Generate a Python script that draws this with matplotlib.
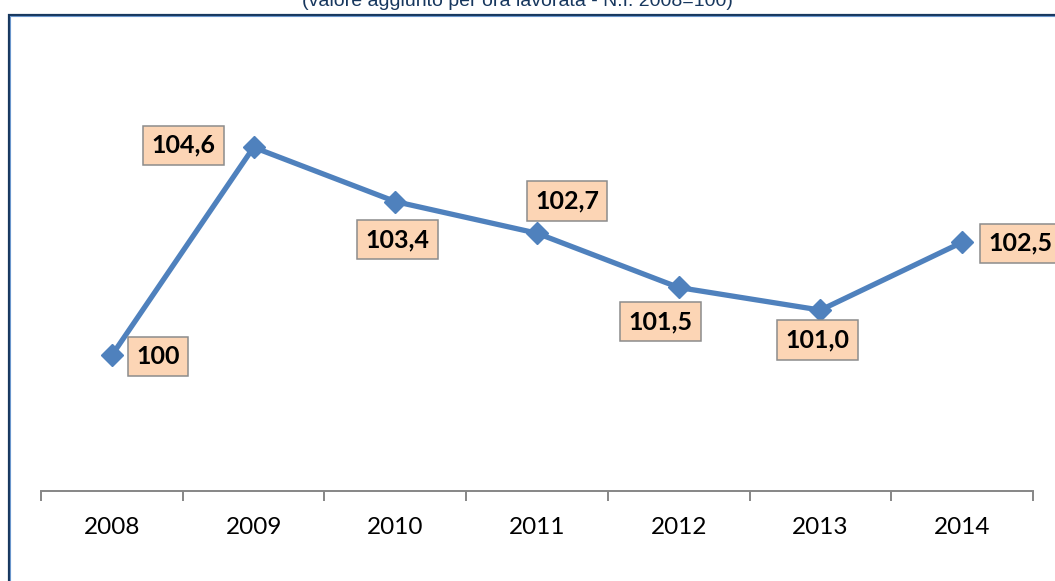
import matplotlib
matplotlib.use("Agg")
import matplotlib.pyplot as plt
from matplotlib.patches import Rectangle

years = ["2008", "2009", "2010", "2011", "2012", "2013", "2014"]
values = [100.0, 104.6, 103.4, 102.7, 101.5, 101.0, 102.5]
value_labels = ["100", "104,6", "103,4", "102,7", "101,5", "101,0", "102,5"]
title = "(valore aggiunto per ora lavorata - N.I. 2008=100)"

# label placement relative to each point, in pixels
label_offsets = [(46, -1), (-70, 2), (2, -38), (30, 32), (-18, -34), (-3, -30), (58, -1)]

W, H = 1055, 581
fig = plt.figure(figsize=(W / 100, H / 100), dpi=100)

# outer chart frame (runs off the right and bottom edges)
fig.patches.append(Rectangle((8.5 / W, -0.2), 1.2, 1.2 - 14.5 / H, transform=fig.transFigure,
                             fill=False, edgecolor="#17375E", linewidth=1.6, zorder=0))
fig.patches.append(Rectangle((10 / W, -0.2), 1.2, 1.2 - 16 / H, transform=fig.transFigure,
                             fill=False, edgecolor="#6A96CC", linewidth=0.8, zorder=0))

fig.text(517 / W, 1 - 6 / H, title, ha="center", va="baseline", color="#17375E",
         fontsize=14, family="Liberation Sans")

ax = fig.add_axes([41 / W, (H - 491) / H, 992 / W, 407 / H])
ax.set_facecolor("none")
x = list(range(len(years)))
ax.plot(x, values, color="#4F81BD", linewidth=3.8, marker="D", markersize=11,
        solid_capstyle="round", solid_joinstyle="round", zorder=3)

ax.set_xlim(-0.5, len(years) - 0.5)
ax.set_ylim(97, 106)

for s in ["top", "right", "left"]:
    ax.spines[s].set_visible(False)
ax.spines["bottom"].set_color("#868686")
ax.spines["bottom"].set_linewidth(1.4)
ax.set_yticks([])

ax.set_xticks(x)
ax.set_xticklabels(years, family="Lato", fontsize=17.5)
ax.tick_params(axis="x", which="major", length=0, pad=19)
ax.set_xticks([i - 0.5 for i in range(len(years) + 1)], minor=True)
ax.tick_params(axis="x", which="minor", length=7, width=1.4, color="#868686", direction="out")

for xi, v, lab, (dx, dy) in zip(x, values, value_labels, label_offsets):
    ax.annotate(lab, (xi, v), xytext=(dx, dy), textcoords="offset pixels",
                ha="center", va="center", fontsize=18, fontweight="bold", family="Lato",
                annotation_clip=False, zorder=4,
                bbox=dict(boxstyle="square,pad=0.33", facecolor="#FCD5B5",
                          edgecolor="#8C8C8C", linewidth=1.1))

fig.savefig("out.png", dpi=100)
